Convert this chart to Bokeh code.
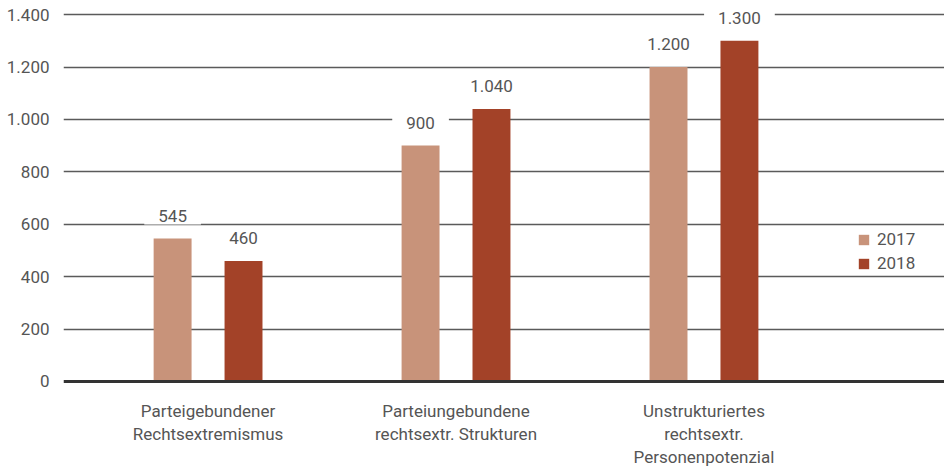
from bokeh.plotting import figure
from bokeh.models import (ColumnDataSource, Range1d, FixedTicker, Span, Legend, LegendItem,
                          Label, LinearAxis)
from bokeh.embed import file_html
from bokeh.resources import INLINE

categories = ["Parteigebundener\nRechtsextremismus",
              "Parteiungebundene\nrechtsextr. Strukturen",
              "Unstrukturiertes\nrechtsextr.\nPersonenpotenzial"]
values_2017 = [545, 900, 1200]
values_2018 = [460, 1040, 1300]
labels_2017 = ["545", "900", "1.200"]
labels_2018 = ["460", "1.040", "1.300"]
y_ticks = [0, 200, 400, 600, 800, 1000, 1200, 1400]
y_tick_labels = ["0", "200", "400", "600", "800", "1.000", "1.200", "1.400"]
series_names = ["2017", "2018"]

C17 = "#C8937A"
C18 = "#A34228"
TXT = "#555555"
FONT = "Roboto"

idx = list(range(len(categories)))
off = 0.143
bw = 0.153

src17 = ColumnDataSource(dict(x=[i - off for i in idx], top=values_2017))
src18 = ColumnDataSource(dict(x=[i + off for i in idx], top=values_2018))

p = figure(frame_width=881, frame_height=382, output_backend="svg", toolbar_location=None,
           x_range=Range1d(-0.583, 2.97), y_range=Range1d(-8, 1450),
           x_axis_location=None,
           min_border_left=63, min_border_right=0, min_border_top=1, min_border_bottom=0)
p.outline_line_color = None
p.background_fill_color = "white"
p.border_fill_color = "white"

p.xgrid.grid_line_color = None
p.ygrid.grid_line_color = "#5a5a5a"
p.ygrid.grid_line_width = 1.5
p.ygrid.ticker = FixedTicker(ticks=y_ticks[1:])

p.yaxis.ticker = FixedTicker(ticks=y_ticks)
p.yaxis.major_label_overrides = {t: l for t, l in zip(y_ticks, y_tick_labels)}
p.yaxis.axis_line_color = None
p.yaxis.major_tick_line_color = None
p.yaxis.minor_tick_line_color = None
p.yaxis.major_tick_out = 0
p.yaxis.major_tick_in = 0
p.yaxis.major_label_standoff = 14
p.yaxis.major_label_text_font = FONT
p.yaxis.major_label_text_font_size = "17px"
p.yaxis.major_label_text_color = TXT

# category labels: one axis per text line, stacked below
lines = [c.split("\n") for c in categories]
nlines = max(len(l) for l in lines)
for k in range(nlines):
    ov = {i: (l[k] if k < len(l) else " ") for i, l in zip(idx, lines)}
    ax = LinearAxis(ticker=FixedTicker(ticks=idx), major_label_overrides=ov,
                    axis_line_color=None, major_tick_line_color=None, minor_tick_line_color=None,
                    major_tick_out=0, major_tick_in=0,
                    major_label_standoff=(17 if k == 0 else 0),
                    major_label_text_font=FONT, major_label_text_font_size="17px",
                    major_label_text_color=TXT)
    p.add_layout(ax, "below")

r17 = p.vbar(x="x", top="top", width=bw, bottom=0, source=src17, fill_color=C17, line_color=None)
r18 = p.vbar(x="x", top="top", width=bw, bottom=0, source=src18, fill_color=C18, line_color=None)

p.add_layout(Span(location=0, dimension="width", line_color="#333333", line_width=3))

for xs, vals, labs in ((src17.data["x"], values_2017, labels_2017),
                       (src18.data["x"], values_2018, labels_2018)):
    for x, v, t in zip(xs, vals, labs):
        p.add_layout(Label(x=x, y=v, text=t, y_offset=23, text_align="center",
                           text_baseline="middle", text_font=FONT, text_font_size="17px",
                           text_color=TXT, background_fill_color="white",
                           padding=(14, 3)))

legend = Legend(items=[LegendItem(label=series_names[0], renderers=[r17]),
                       LegendItem(label=series_names[1], renderers=[r18])],
                location=(794, 110), padding=0, margin=0, spacing=4,
                glyph_width=13, glyph_height=13, label_height=13, label_standoff=7,
                label_text_font=FONT, label_text_font_size="17px", label_text_color=TXT,
                background_fill_color="white", background_fill_alpha=0.0,
                border_line_color=None)
p.add_layout(legend)

open("out.html", "w").write(file_html(p, INLINE))
